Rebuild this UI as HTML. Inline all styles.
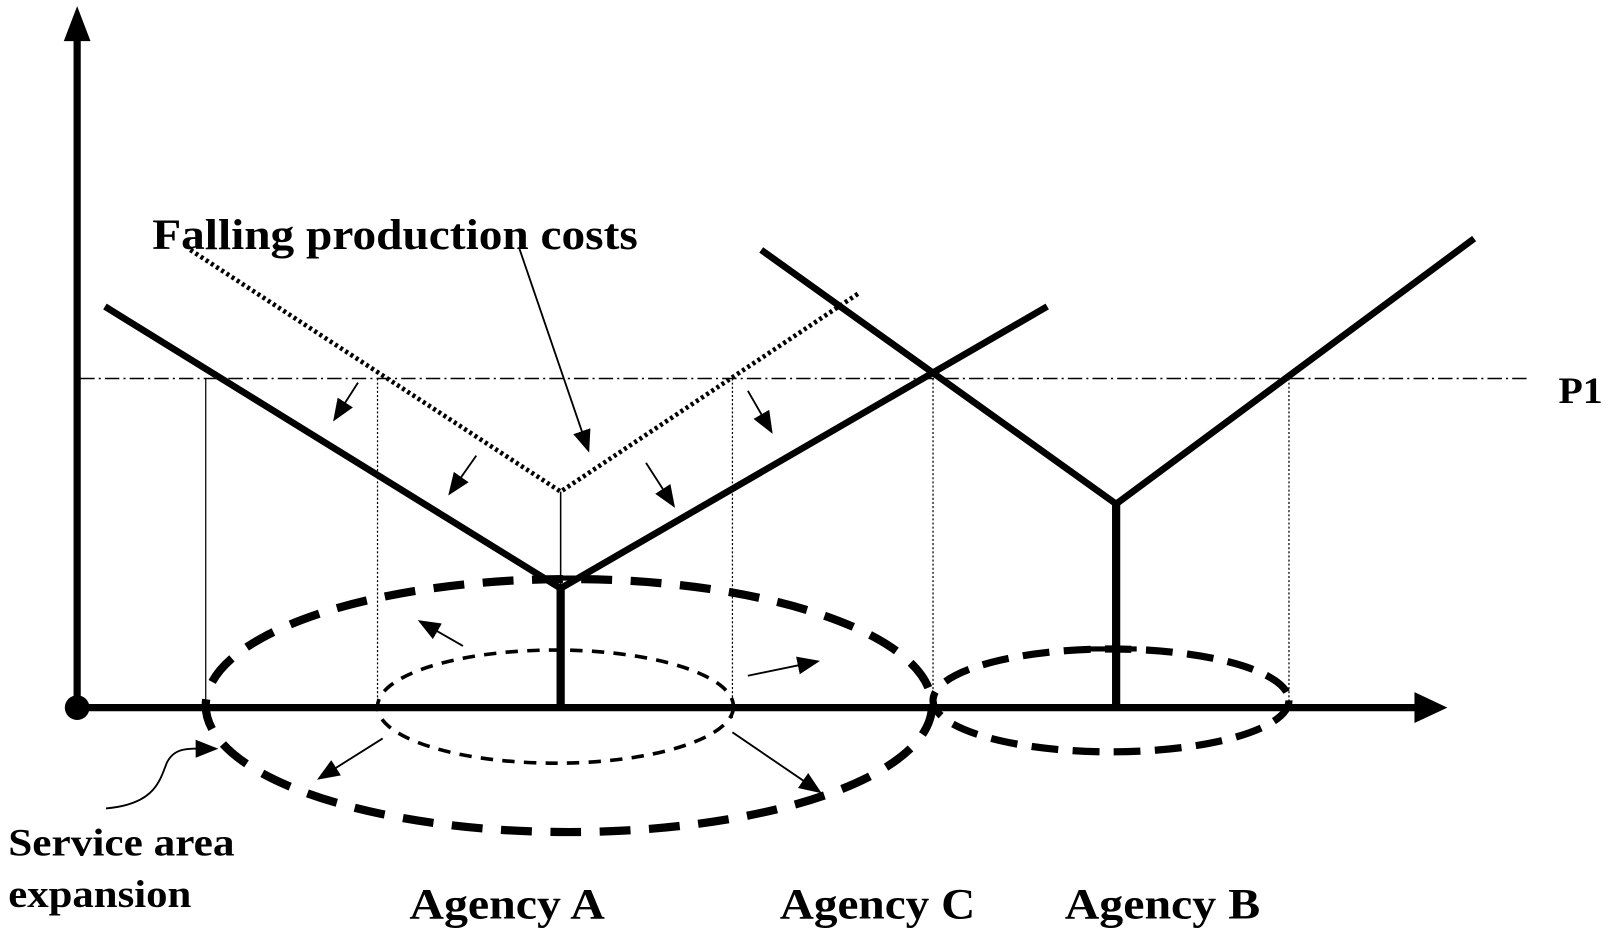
<!DOCTYPE html>
<html><head><meta charset="utf-8"><style>html,body{margin:0;padding:0;background:#fff;}svg{display:block;}</style></head>
<body>
<svg width="1613" height="938" viewBox="0 0 1568 912" preserveAspectRatio="none" xmlns="http://www.w3.org/2000/svg">
<defs>
<marker id="ah2" viewBox="0 0 10 10" refX="9" refY="5" markerWidth="22" markerHeight="22" markerUnits="userSpaceOnUse" orient="auto"><path d="M0,1 L10,5 L0,9 z" fill="#000"/></marker>
</defs>
<g fill="none" stroke="#000">
<line x1="75" y1="690" x2="75" y2="38" stroke-width="7"/>
<path d="M62,40 L75,6 L88,40 z" fill="#000" stroke="none"/>
<line x1="75" y1="688" x2="1378" y2="688" stroke-width="7"/>
<path d="M1375,673 L1407,688 L1375,703 z" fill="#000" stroke="none"/>
<circle cx="75" cy="688" r="12" fill="#000" stroke="none"/>
<line x1="78" y1="368" x2="1488" y2="368" stroke-width="1.5" stroke-dasharray="14,4,2,4"/>
<line x1="200" y1="368" x2="200" y2="688" stroke-width="1.2"/>
<line x1="367" y1="368" x2="367" y2="688" stroke-width="1.2" stroke-dasharray="2,2"/>
<line x1="712" y1="368" x2="712" y2="700" stroke-width="1.2" stroke-dasharray="2,2"/>
<line x1="907" y1="368" x2="907" y2="688" stroke-width="1.2" stroke-dasharray="2,2"/>
<line x1="1253" y1="368" x2="1253" y2="688" stroke-width="1.2" stroke-dasharray="2,2"/>
<line x1="545" y1="478" x2="545" y2="572" stroke-width="1.5"/>
<polyline points="185,243 545,478 835,285" stroke-width="4.5" stroke-dasharray="3,3"/>
<polyline points="102,298 545,572 1018,298" stroke-width="6.5"/>
<line x1="545" y1="572" x2="545" y2="688" stroke-width="8"/>
<polyline points="740,243 1085,490 1433,232" stroke-width="6.5"/>
<line x1="1085" y1="490" x2="1085" y2="688" stroke-width="8"/>
<ellipse cx="553" cy="686" rx="353" ry="123" stroke-width="8" stroke-dasharray="30,18"/>
<ellipse cx="540" cy="687" rx="173" ry="55" stroke-width="3.5" stroke-dasharray="12,9"/>
<ellipse cx="1080" cy="681" rx="173" ry="50" stroke-width="7" stroke-dasharray="26,14"/>
<line x1="1060" y1="631" x2="1105" y2="631" stroke-width="5"/>
<line x1="528" y1="562" x2="578" y2="562" stroke-width="5"/>
<g stroke-width="1.8">
<line x1="348" y1="372" x2="325" y2="408" marker-end="url(#ah2)"/>
<line x1="463" y1="443" x2="437" y2="480" marker-end="url(#ah2)"/>
<line x1="628" y1="450" x2="655" y2="492" marker-end="url(#ah2)"/>
<line x1="727" y1="380" x2="750" y2="420" marker-end="url(#ah2)"/>
<line x1="505" y1="242" x2="572" y2="438" marker-end="url(#ah2)"/>
<line x1="450" y1="628" x2="408" y2="604" marker-end="url(#ah2)"/>
<line x1="727" y1="657" x2="795" y2="643" marker-end="url(#ah2)"/>
<line x1="372" y1="718" x2="310" y2="757" marker-end="url(#ah2)"/>
<line x1="712" y1="712" x2="797" y2="770" marker-end="url(#ah2)"/>
<path d="M103,786 C150,782 155,760 162,742 C170,725 185,728 210,728" marker-end="url(#ah2)"/>
</g>
</g>
<g font-family="Liberation Serif, serif" font-weight="bold" fill="#000">
<text x="148" y="242" font-size="42" textLength="472" lengthAdjust="spacingAndGlyphs">Falling production costs</text>
<text x="1515" y="392" font-size="36" textLength="43" lengthAdjust="spacingAndGlyphs">P1</text>
<text x="8" y="832" font-size="38" textLength="220" lengthAdjust="spacingAndGlyphs">Service area</text>
<text x="8" y="882" font-size="38" textLength="178" lengthAdjust="spacingAndGlyphs">expansion</text>
<text x="398" y="893" font-size="42" textLength="190" lengthAdjust="spacingAndGlyphs">Agency A</text>
<text x="758" y="893" font-size="42" textLength="190" lengthAdjust="spacingAndGlyphs">Agency C</text>
<text x="1035" y="893" font-size="42" textLength="190" lengthAdjust="spacingAndGlyphs">Agency B</text>
</g>
</svg>
</body></html>
